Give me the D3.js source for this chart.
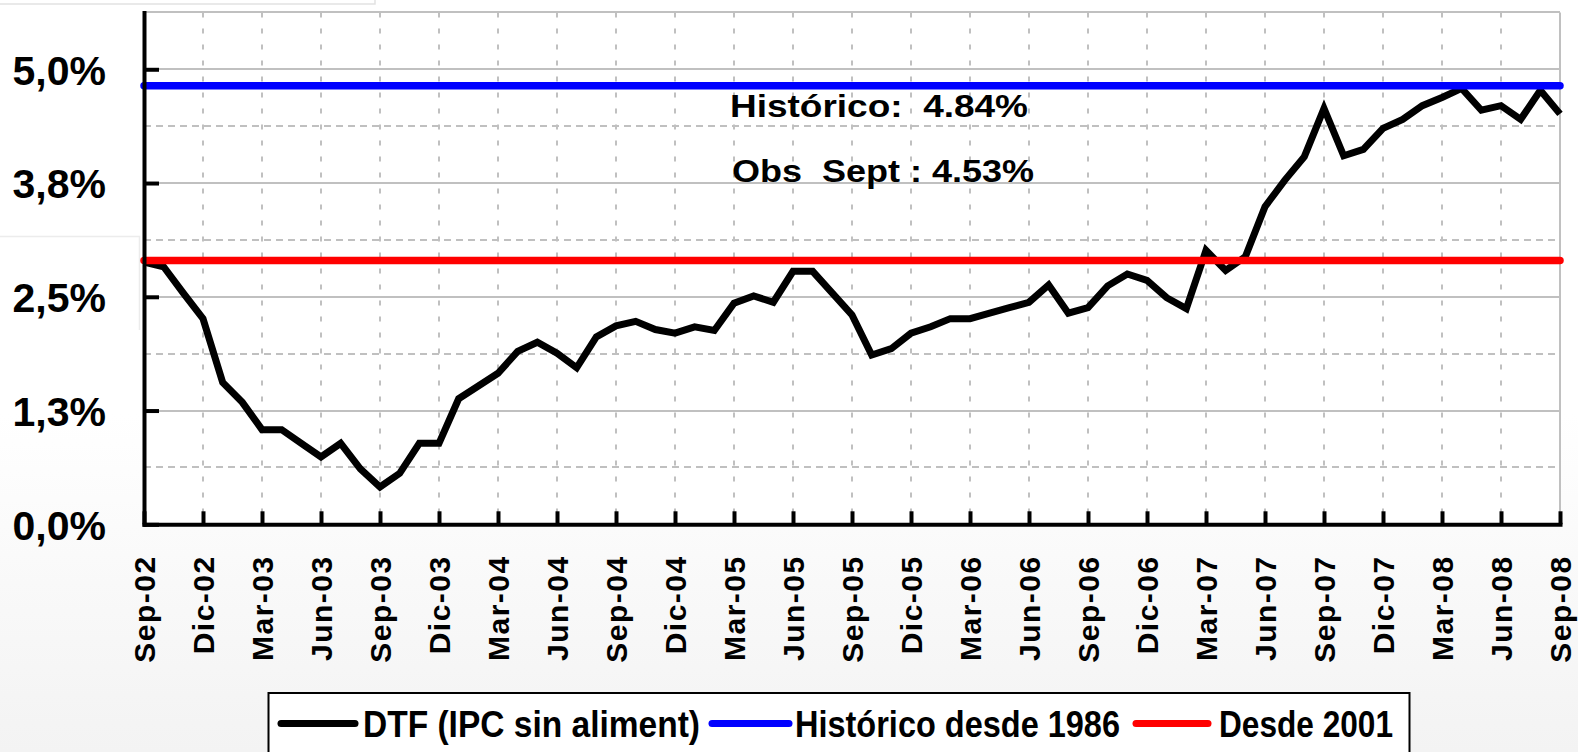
<!DOCTYPE html>
<html>
<head>
<meta charset="utf-8">
<script src="https://cdn.jsdelivr.net/npm/d3@7"></script>
<style>
  body { margin: 0; background: #fff; }
  svg { display: block; }
</style>
</head>
<body>
<div id="chart"></div>
<script>
// monthly categories Sep-02 .. Sep-08
const months = [
  'Sep-02','Oct-02','Nov-02','Dic-02',
  'Ene-03','Feb-03','Mar-03','Abr-03','May-03','Jun-03','Jul-03','Ago-03','Sep-03','Oct-03','Nov-03','Dic-03',
  'Ene-04','Feb-04','Mar-04','Abr-04','May-04','Jun-04','Jul-04','Ago-04','Sep-04','Oct-04','Nov-04','Dic-04',
  'Ene-05','Feb-05','Mar-05','Abr-05','May-05','Jun-05','Jul-05','Ago-05','Sep-05','Oct-05','Nov-05','Dic-05',
  'Ene-06','Feb-06','Mar-06','Abr-06','May-06','Jun-06','Jul-06','Ago-06','Sep-06','Oct-06','Nov-06','Dic-06',
  'Ene-07','Feb-07','Mar-07','Abr-07','May-07','Jun-07','Jul-07','Ago-07','Sep-07','Oct-07','Nov-07','Dic-07',
  'Ene-08','Feb-08','Mar-08','Abr-08','May-08','Jun-08','Jul-08','Ago-08','Sep-08'
];

// DTF real (IPC sin alimentos), %
const dtf = [
  2.88, 2.83, 2.54, 2.26,
  1.56, 1.34, 1.04, 1.04, 0.89, 0.74, 0.89, 0.61, 0.41, 0.56, 0.89, 0.89,
  1.38, 1.52, 1.66, 1.90, 2.00, 1.88, 1.72, 2.06, 2.18, 2.23, 2.14, 2.10,
  2.17, 2.13, 2.43, 2.51, 2.44, 2.78, 2.78, 2.54, 2.30, 1.86, 1.93, 2.10,
  2.17, 2.26, 2.26, 2.32, 2.38, 2.44, 2.63, 2.32, 2.38, 2.62, 2.75, 2.68,
  2.49, 2.37, 3.01, 2.79, 2.94, 3.49, 3.78, 4.04, 4.57, 4.05, 4.12, 4.35,
  4.45, 4.60, 4.69, 4.79, 4.55, 4.60, 4.45, 4.77, 4.51
];

const historico = 4.82;   // promedio histórico desde 1986
const desde2001 = 2.90;   // promedio desde 2001

const yTicks = [0, 1.25, 2.5, 3.75, 5.0];
const yTickLabels = ['0,0%', '1,3%', '2,5%', '3,8%', '5,0%'];
const yMinor = [0.625, 1.875, 3.125, 4.375];
const yMax = 5.625;

const seriesNames = ['DTF (IPC sin aliment)', 'Histórico desde 1986', 'Desde 2001'];
const seriesColors = ['#000000', '#0000ff', '#ff0000'];
const notes = ['Histórico:  4.84%', 'Obs  Sept : 4.53%'];

const W = 1578, H = 752;
const plot = { left: 144, right: 1560, top: 12.4, bottom: 524.3 };

const svg = d3.select('#chart').append('svg')
  .attr('width', W).attr('height', H)
  .style('font-family', 'Liberation Sans, Arial, sans-serif');

// slide background
const defs = svg.append('defs');
const grad = defs.append('linearGradient').attr('id', 'bg').attr('x1', 0).attr('y1', 0).attr('x2', 0).attr('y2', 1);
grad.append('stop').attr('offset', '0.55').attr('stop-color', '#ffffff');
grad.append('stop').attr('offset', '1').attr('stop-color', '#f3f3f3');
svg.append('rect').attr('width', W).attr('height', H).attr('fill', 'url(#bg)');
svg.append('rect').attr('x', -2).attr('y', -2).attr('width', 377).attr('height', 6)
  .attr('fill', 'none').attr('stroke', '#e2e2e2').attr('stroke-width', 1.5);
svg.append('path').attr('d', 'M0,236.5H139.5V330')
  .attr('fill', 'none').attr('stroke', '#ececec').attr('stroke-width', 1.5);

const x = d3.scalePoint().domain(months).range([plot.left, plot.right]);
const y = d3.scaleLinear().domain([0, yMax]).range([plot.bottom, plot.top]);

svg.append('rect')
  .attr('x', plot.left).attr('y', plot.top)
  .attr('width', plot.right - plot.left).attr('height', plot.bottom - plot.top)
  .attr('fill', '#fff');

const quarterMonths = months.filter((d, i) => i % 3 === 0);
const grid = svg.append('g').attr('stroke', '#c0c0c0').attr('stroke-width', 2);

// vertical dashed gridlines
grid.selectAll('.vg')
  .data(quarterMonths.slice(1, -1))
  .enter().append('line')
  .attr('x1', d => Math.round(x(d))).attr('x2', d => Math.round(x(d)))
  .attr('y1', plot.top).attr('y2', plot.bottom)
  .attr('stroke-dasharray', '5,11');

// minor horizontal dashed
grid.selectAll('.hm')
  .data(yMinor)
  .enter().append('line')
  .attr('x1', plot.left).attr('x2', plot.right)
  .attr('y1', d => Math.round(y(d))).attr('y2', d => Math.round(y(d)))
  .attr('stroke-dasharray', '7,5');

// major horizontal solid + top border
grid.selectAll('.hM')
  .data(yTicks.slice(1).concat([yMax]))
  .enter().append('line')
  .attr('x1', plot.left).attr('x2', plot.right)
  .attr('y1', d => Math.round(y(d))).attr('y2', d => Math.round(y(d)));

// right border
grid.append('line')
  .attr('x1', x(months[months.length - 1])).attr('x2', x(months[months.length - 1]))
  .attr('y1', plot.top).attr('y2', plot.bottom);

// series
const line = d3.line()
  .x((d, i) => x(months[i]))
  .y(d => y(d));

svg.append('path')
  .datum(dtf)
  .attr('d', line)
  .attr('fill', 'none')
  .attr('stroke', seriesColors[0])
  .attr('stroke-width', 7)
  .attr('stroke-linejoin', 'miter')
  .attr('stroke-miterlimit', 3);

svg.selectAll('.ref')
  .data([historico, desde2001])
  .enter().append('line')
  .attr('x1', x(months[0]))
  .attr('x2', x(months[months.length - 1]))
  .attr('y1', d => y(d)).attr('y2', d => y(d))
  .attr('stroke', (d, i) => seriesColors[i + 1])
  .attr('stroke-width', 7.5)
  .attr('stroke-linecap', 'round');

// axes
const yAxis = svg.append('g')
  .attr('transform', `translate(${plot.left},0)`)
  .call(d3.axisLeft(y).tickValues(yTicks)
    .tickFormat((d, i) => yTickLabels[i])
    .tickSizeInner(-15).tickSizeOuter(0).tickPadding(38));

const xAxis = svg.append('g')
  .attr('transform', `translate(0,${plot.bottom})`)
  .call(d3.axisBottom(x).tickValues(quarterMonths)
    .tickSizeInner(-13).tickSizeOuter(0));

[yAxis, xAxis].forEach(g => {
  g.select('.domain').attr('stroke', '#000').attr('stroke-width', 4).attr('stroke-linecap', 'square');
  g.selectAll('.tick line').attr('stroke', '#000').attr('stroke-width', 4);
});

yAxis.selectAll('.tick text')
  .attr('fill', '#000')
  .attr('font-size', 41)
  .attr('font-weight', 'bold')
  .attr('dy', '0.36em');

xAxis.selectAll('.tick text')
  .attr('fill', '#000')
  .attr('font-size', 30)
  .attr('font-weight', 'bold')
  .attr('letter-spacing', 1.5)
  .attr('text-anchor', 'end')
  .attr('transform', 'rotate(-90)')
  .attr('x', -31)
  .attr('y', 0)
  .attr('dy', '0.36em');

// annotations
const noteLayout = [
  { x: 730, y: 116.5, len: 298 },
  { x: 732, y: 181.5, len: 302 }
];
svg.selectAll('.note')
  .data(notes)
  .enter().append('text')
  .attr('x', (d, i) => noteLayout[i].x)
  .attr('y', (d, i) => noteLayout[i].y)
  .attr('font-size', 31)
  .attr('font-weight', 'bold')
  .attr('fill', '#000')
  .attr('textLength', (d, i) => noteLayout[i].len)
  .attr('lengthAdjust', 'spacingAndGlyphs')
  .style('white-space', 'pre')
  .text(d => d);

// legend
const legend = svg.append('g');
legend.append('rect')
  .attr('x', 268.5).attr('y', 693)
  .attr('width', 1141).attr('height', 80)
  .attr('fill', '#fff').attr('stroke', '#000').attr('stroke-width', 2);

const legendLayout = [
  { x1: 281, x2: 355, tx: 363, len: 337 },
  { x1: 712, x2: 789, tx: 795, len: 325 },
  { x1: 1136, x2: 1208, tx: 1219, len: 174 }
];
const items = legend.selectAll('.item')
  .data(seriesNames)
  .enter().append('g');
items.append('line')
  .attr('x1', (d, i) => legendLayout[i].x1)
  .attr('x2', (d, i) => legendLayout[i].x2)
  .attr('y1', 723.5).attr('y2', 723.5)
  .attr('stroke', (d, i) => seriesColors[i])
  .attr('stroke-width', 7)
  .attr('stroke-linecap', 'round');
items.append('text')
  .attr('x', (d, i) => legendLayout[i].tx)
  .attr('y', 737)
  .attr('font-family', 'Liberation Sans Narrow, Arial Narrow, Liberation Sans, sans-serif')
  .attr('font-size', 36)
  .attr('font-weight', 'bold')
  .attr('fill', '#000')
  .attr('textLength', (d, i) => legendLayout[i].len)
  .attr('lengthAdjust', 'spacingAndGlyphs')
  .text(d => d);
</script>
</body>
</html>
